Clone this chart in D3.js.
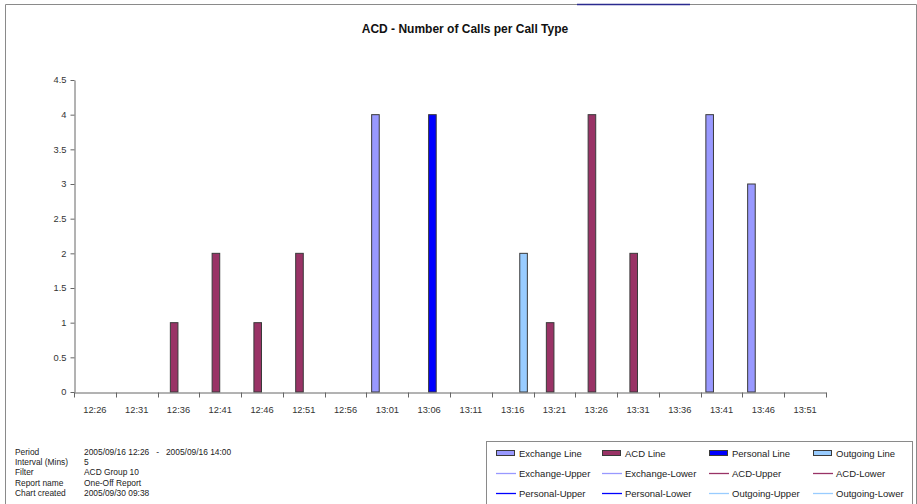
<!DOCTYPE html>
<html>
<head>
<meta charset="utf-8">
<script src="https://cdn.jsdelivr.net/npm/d3@7"></script>
<style>
  html, body { margin: 0; padding: 0; background: #fff; }
  svg { display: block; font-family: "Liberation Sans", Arial, sans-serif; }
  .info text { white-space: pre; }
</style>
</head>
<body>
<svg id="chart" width="917" height="504"></svg>
<script>
// Five-minute intervals on the category axis
const times = ["12:26", "12:31", "12:36", "12:41", "12:46", "12:51", "12:56", "13:01", "13:06",
               "13:11", "13:16", "13:21", "13:26", "13:31", "13:36", "13:41", "13:46", "13:51"];

// Calls per interval for each call type
const exchangeLine = [0, 0, 0, 0, 0, 0, 0, 4, 0, 0, 0, 0, 0, 0, 0, 4, 3, 0];
const acdLine      = [0, 0, 1, 2, 1, 2, 0, 0, 0, 0, 0, 1, 4, 2, 0, 0, 0, 0];
const personalLine = [0, 0, 0, 0, 0, 0, 0, 0, 4, 0, 0, 0, 0, 0, 0, 0, 0, 0];
const outgoingLine = [0, 0, 0, 0, 0, 0, 0, 0, 0, 0, 2, 0, 0, 0, 0, 0, 0, 0];

const seriesNames = ["Exchange Line", "ACD Line", "Personal Line", "Outgoing Line"];
const yTicks = [0, 0.5, 1, 1.5, 2, 2.5, 3, 3.5, 4, 4.5];

// Legend entries: bar series, then the upper/lower threshold lines
const legendRows = [
  ["Exchange Line", "ACD Line", "Personal Line", "Outgoing Line"],
  ["Exchange-Upper", "Exchange-Lower", "ACD-Upper", "ACD-Lower"],
  ["Personal-Upper", "Personal-Lower", "Outgoing-Upper", "Outgoing-Lower"]
];

// Report details printed under the chart
const infoLabels = ["Period", "Interval (Mins)", "Filter", "Report name", "Chart created"];
const infoValues = ["2005/09/16 12:26   -   2005/09/16 14:00", "5", "ACD Group 10", "One-Off Report", "2005/09/30 09:38"];

const colors = {
  "Exchange": "#9999ff",
  "ACD": "#993366",
  "Personal": "#0000ff",
  "Outgoing": "#99ccff"
};
const seriesValues = [exchangeLine, acdLine, personalLine, outgoingLine];

const svg = d3.select("#chart");
svg.append("rect").attr("width", 917).attr("height", 504).attr("fill", "#fff");

// Outer frame
const frame = svg.append("g").attr("stroke", "#8a8a8a").attr("stroke-width", 1).attr("fill", "none");
frame.append("path").attr("d", "M5.5,504 V4.5 H916.5 V504");
svg.append("line").attr("x1", 577).attr("x2", 690).attr("y1", 4.5).attr("y2", 4.5)
  .attr("stroke", "#2b2b8f").attr("stroke-width", 1.6);

// Title
svg.append("text").attr("x", 465).attr("y", 33).attr("text-anchor", "middle")
  .attr("font-size", 12).attr("font-weight", "bold").attr("fill", "#111")
  .text("ACD - Number of Calls per Call Type");

// Scales
const x = d3.scaleBand().domain(times).range([74, 826]).padding(0);
const xs = d3.scaleBand().domain(seriesNames).range([0, x.bandwidth()])
  .paddingInner(0).paddingOuter(0.75);
const y = d3.scaleLinear().domain([0, 4.5]).range([392, 80]);

// Bars
const barData = [];
seriesNames.forEach((s, si) => {
  seriesValues[si].forEach((v, i) => {
    if (v > 0) barData.push({ series: s, key: s.split(" ")[0], time: times[i], value: v });
  });
});
svg.append("g").selectAll("rect").data(barData).join("rect")
  .attr("x", d => x(d.time) + xs(d.series) - 0.5)
  .attr("y", d => y(d.value))
  .attr("width", xs.bandwidth())
  .attr("height", d => y(0) - y(d.value))
  .attr("fill", d => colors[d.key])
  .attr("stroke", "#3a3a3a").attr("stroke-width", 1);

// Y axis
const yAxis = svg.append("g").attr("transform", "translate(74.5,0)")
  .call(d3.axisLeft(y).tickValues(yTicks).tickSize(4).tickSizeOuter(0).tickPadding(4)
    .tickFormat(d3.format("~g")));
yAxis.select(".domain").attr("stroke", "#666");
yAxis.selectAll(".tick line").attr("stroke", "#666");
yAxis.selectAll(".tick text").attr("font-size", 9.3).attr("fill", "#333")
  .attr("font-family", "'Liberation Sans', Arial, sans-serif");

// X axis: labels centred in each interval, tick marks on interval boundaries
const xAxis = svg.append("g").attr("transform", "translate(0,392.5)")
  .call(d3.axisBottom(x).tickSize(0).tickSizeOuter(0).tickPadding(14));
xAxis.select(".domain").attr("stroke", "#666");
xAxis.selectAll(".tick text").attr("font-size", 9.3).attr("fill", "#333")
  .attr("font-family", "'Liberation Sans', Arial, sans-serif");
const bounds = times.map(t => x(t)).concat([x.range()[1]]);
xAxis.selectAll(".bound").data(bounds).join("line").attr("class", "bound")
  .attr("x1", d => Math.round(d) + 0.5).attr("x2", d => Math.round(d) + 0.5)
  .attr("y1", 0).attr("y2", 5).attr("stroke", "#666");

// Report details
const info = svg.append("g").attr("class", "info").attr("font-size", 8.4).attr("fill", "#222");
infoLabels.forEach((l, i) => {
  info.append("text").attr("x", 15).attr("y", 455 + i * 10.2).text(l);
  info.append("text").attr("x", 84).attr("y", 455 + i * 10.2).text(infoValues[i]);
});

// Legend
const legend = svg.append("g");
legend.append("rect").attr("x", 486.5).attr("y", 441.5).attr("width", 426).attr("height", 70)
  .attr("fill", "#fff").attr("stroke", "#8a8a8a");
const colX = [496, 602, 709, 813];
legendRows.forEach((row, ri) => {
  row.forEach((name, ci) => {
    const key = name.split(/[ -]/)[0];
    const cy = 453 + ri * 20;
    const g = legend.append("g").attr("transform", `translate(${colX[ci]},${cy})`);
    if (ri === 0) {
      g.append("rect").attr("x", 0.5).attr("y", -2.5).attr("width", 18).attr("height", 5)
        .attr("fill", colors[key]).attr("stroke", "#3a3a3a").attr("stroke-width", 1);
    } else {
      g.append("line").attr("x1", 0).attr("x2", 20).attr("y1", 0.5).attr("y2", 0.5)
        .attr("stroke", colors[key]).attr("stroke-width", 1.3);
    }
    g.append("text").attr("x", 23).attr("y", 3.5).attr("font-size", 9.5).attr("fill", "#222")
      .text(name);
  });
});
</script>
</body>
</html>
